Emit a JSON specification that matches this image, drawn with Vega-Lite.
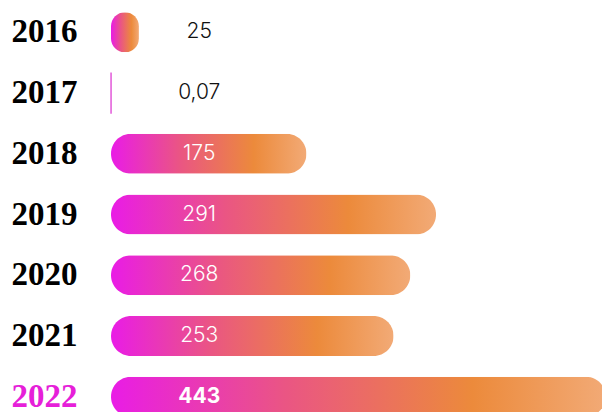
{
  "$schema": "https://vega.github.io/schema/vega-lite/v6.json",
  "autosize": "none",
  "padding": {"left": 111, "top": 2, "right": 0, "bottom": 0},
  "width": 491,
  "height": 425,
  "background": "white",
  "config": {"view": {"stroke": null}},
  "data": {
    "values": [
      {"year": "2016", "value": 25, "label": "25", "inside": false, "bold": false},
      {"year": "2017", "value": 0.07, "label": "0,07", "inside": false, "bold": false},
      {"year": "2018", "value": 175, "label": "175", "inside": true, "bold": false},
      {"year": "2019", "value": 291, "label": "291", "inside": true, "bold": false},
      {"year": "2020", "value": 268, "label": "268", "inside": true, "bold": false},
      {"year": "2021", "value": 253, "label": "253", "inside": true, "bold": false},
      {"year": "2022", "value": 443, "label": "443", "inside": true, "bold": true}
    ]
  },
  "encoding": {
    "y": {
      "field": "year",
      "type": "nominal",
      "sort": ["2016", "2017", "2018", "2019", "2020", "2021", "2022"],
      "scale": {"domain": ["2016", "2017", "2018", "2019", "2020", "2021", "2022"], "paddingInner": 0, "paddingOuter": 0},
      "axis": {
        "title": null,
        "domain": false,
        "ticks": false,
        "tickSize": 0,
        "labelPadding": 100,
        "labelAlign": "left",
        "labelBaseline": "middle",
        "labelFont": "Liberation Serif",
        "labelFontWeight": "bold",
        "labelFontSize": 33,
        "labelColor": {"condition": {"test": "datum.value == '2022'", "value": "#e61fd9"}, "value": "#000000"}
      }
    }
  },
  "layer": [
    {
      "transform": [{"filter": "datum.value >= 1"}],
      "mark": {
        "type": "bar",
        "height": 40,
        "cornerRadius": 20,
        "fill": {
          "gradient": "linear",
          "x1": 0, "y1": 0, "x2": 1, "y2": 0,
          "stops": [
            {"offset": 0, "color": "#e91ce6"},
            {"offset": 0.35, "color": "#ea5584"},
            {"offset": 0.73, "color": "#ec8a3b"},
            {"offset": 1, "color": "#f2aa76"}
          ]
        }
      },
      "encoding": {
        "x": {"field": "value", "type": "quantitative", "scale": {"domain": [0, 439.6], "nice": false, "zero": true}, "axis": null}
      }
    },
    {
      "transform": [{"filter": "datum.value < 1"}],
      "mark": {"type": "bar", "height": 40, "fill": "#dd3fd3", "stroke": "#dd3fd3", "strokeWidth": 1.2},
      "encoding": {
        "x": {"field": "value", "type": "quantitative"}
      }
    },
    {
      "transform": [{"filter": "!datum.bold"}],
      "mark": {"type": "text", "font": "Inter", "fontWeight": 300, "fontSize": 21, "align": "center", "baseline": "middle"},
      "encoding": {
        "x": {"datum": 79, "type": "quantitative"},
        "text": {"field": "label"},
        "color": {"condition": {"test": "datum.inside", "value": "#ffffff"}, "value": "#111111"}
      }
    },
    {
      "transform": [{"filter": "datum.bold"}],
      "mark": {"type": "text", "font": "Inter", "fontWeight": "bold", "fontSize": 21, "align": "center", "baseline": "middle", "color": "#ffffff"},
      "encoding": {
        "x": {"datum": 79, "type": "quantitative"},
        "text": {"field": "label"}
      }
    }
  ]
}
